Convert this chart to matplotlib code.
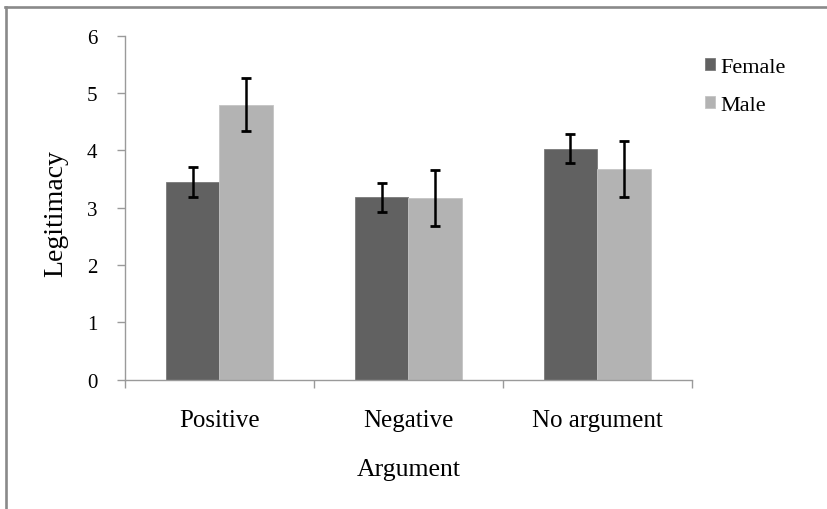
import matplotlib
matplotlib.use("Agg")
import matplotlib.pyplot as plt
from matplotlib.lines import Line2D
import numpy as np

categories = ["Positive", "Negative", "No argument"]
female = [3.45, 3.18, 4.03]
female_err = [0.255, 0.25, 0.25]
male = [4.80, 3.17, 3.68]
male_err = [0.47, 0.485, 0.485]
series_names = ["Female", "Male"]
yticks = [0, 1, 2, 3, 4, 5, 6]

plt.rcParams['font.family'] = ['Liberation Serif', 'DejaVu Serif']

fig = plt.figure(figsize=(8.27, 5.10), dpi=100)
ax = fig.add_axes([125/827, 1-380.7/510, (691.7-125)/827, (380.7-36.7)/510])

x = np.arange(len(categories))
w = 0.284
ekw = dict(elinewidth=1.8, capthick=2.0, ecolor='black')
ax.bar(x - w/2, female, w, color='#616161', edgecolor='#7a7a7a', linewidth=0.6,
       yerr=female_err, capsize=3.8, error_kw=ekw, label=series_names[0], zorder=2)
ax.bar(x + w/2, male, w, color='#b3b3b3', edgecolor='#c4c4c4', linewidth=0.6,
       yerr=male_err, capsize=3.8, error_kw=ekw, label=series_names[1], zorder=2)

ax.set_xlim(-0.5, len(categories) - 0.5)
ax.set_ylim(0, 6)
ax.set_yticks(yticks)
ax.set_yticklabels([str(t) for t in yticks], fontsize=15)

ax.set_xticks(np.arange(len(categories) + 1) - 0.5)
ax.set_xticklabels([])
ax.set_xticks(x, minor=True)
ax.set_xticklabels(categories, minor=True, fontsize=18)
ax.tick_params(axis='x', which='major', direction='out', length=6, color='#9a9a9a', width=1)
ax.tick_params(axis='x', which='minor', length=0, pad=21)
ax.tick_params(axis='y', direction='out', length=6, color='#9a9a9a', width=1, pad=14)

for s in ['top', 'right']:
    ax.spines[s].set_visible(False)
for s in ['left', 'bottom']:
    ax.spines[s].set_color('#9a9a9a')
    ax.spines[s].set_linewidth(1)

ax.set_xlabel("Argument", fontsize=18.5)
ax.xaxis.set_label_coords(0.5, -0.228)
ax.set_ylabel("Legitimacy", fontsize=20)
ax.yaxis.set_label_coords(-0.1, 0.486)

leg = ax.legend(loc='upper left', bbox_to_anchor=(705/827, 1-59/510),
                bbox_transform=fig.transFigure, frameon=False, fontsize=16,
                handlelength=0.45, handleheight=0.45, handletextpad=0.25,
                labelspacing=0.85, borderpad=0, borderaxespad=0)

fig.add_artist(Line2D([4.5/827, 1], [1-7.5/510, 1-7.5/510], transform=fig.transFigure,
                      color='#8a8a8a', linewidth=1.9))
fig.add_artist(Line2D([5.5/827, 5.5/827], [0, 1-7.5/510], transform=fig.transFigure,
                      color='#8a8a8a', linewidth=1.9))

fig.savefig("out.png", dpi=100)
